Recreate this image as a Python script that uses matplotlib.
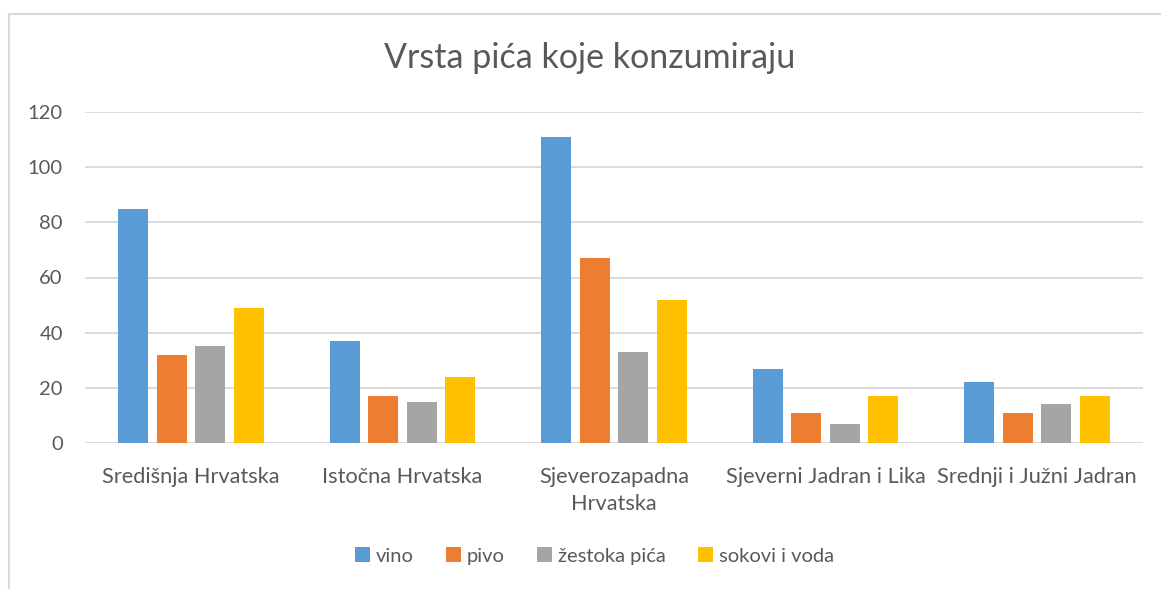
import numpy as np
import matplotlib.pyplot as plt
from matplotlib.lines import Line2D

plt.rcParams['font.family'] = ['Lato', 'DejaVu Sans']

# data
regions = ['Središnja Hrvatska', 'Istočna Hrvatska', 'Sjeverozapadna\nHrvatska',
           'Sjeverni Jadran i Lika', 'Srednji i Južni Jadran']
vino = [85, 37, 111, 27, 22]
pivo = [32, 17, 67, 11, 11]
zestoka = [35, 15, 33, 7, 14]
sokovi = [49, 24, 52, 17, 17]
series_names = ['vino', 'pivo', 'žestoka pića', 'sokovi i voda']
colors = ['#5B9BD5', '#ED7D31', '#A5A5A5', '#FFC000']
y_ticks = [0, 20, 40, 60, 80, 100, 120]

TEXT = '#595959'
GRID = '#D9D9D9'

fig = plt.figure(figsize=(11.61, 5.89), dpi=100)
ax = fig.add_axes([85 / 1161, 1 - 443 / 589, 1058 / 1161, 331 / 589])

x = np.arange(len(regions))
step = 0.182
width = 0.142
for i, (vals, name, col) in enumerate(zip([vino, pivo, zestoka, sokovi], series_names, colors)):
    ax.bar(x + (i - 1.5) * step, vals, width, color=col, label=name, zorder=3)

ax.set_xlim(-0.5, len(regions) - 0.5)
ax.set_ylim(0, 120)
ax.set_yticks(y_ticks)
ax.set_xticks(x)
ax.set_xticklabels(regions, linespacing=1.45)
ax.tick_params(axis='y', length=0, pad=16, labelsize=14.5, labelcolor=TEXT)
ax.tick_params(axis='x', length=0, pad=17, labelsize=15.7, labelcolor=TEXT)
ax.grid(axis='y', color=GRID, linewidth=1.3, zorder=0)
for s in ax.spines.values():
    s.set_visible(False)

fig.text(0.508, 1 - 58 / 589, 'Vrsta pića koje konzumiraju', ha='center', va='center',
         fontsize=24.5, color=TEXT)

handles, labels = ax.get_legend_handles_labels()
fig.legend(handles, labels, loc='center', bbox_to_anchor=(0.512, 1 - 556 / 589), ncol=4,
           frameon=False, fontsize=14.5, labelcolor=TEXT, handlelength=0.75, handleheight=0.75,
           handletextpad=0.3, columnspacing=1.6)

# outer chart border (light grey), cut off at right and bottom
fig.add_artist(Line2D([8.5 / 1161, 1], [1 - 13.5 / 589, 1 - 13.5 / 589], color=GRID, lw=1.5))
fig.add_artist(Line2D([8.5 / 1161, 8.5 / 1161], [0, 1 - 13.5 / 589], color=GRID, lw=1.5))

fig.savefig('out.png', dpi=100)
